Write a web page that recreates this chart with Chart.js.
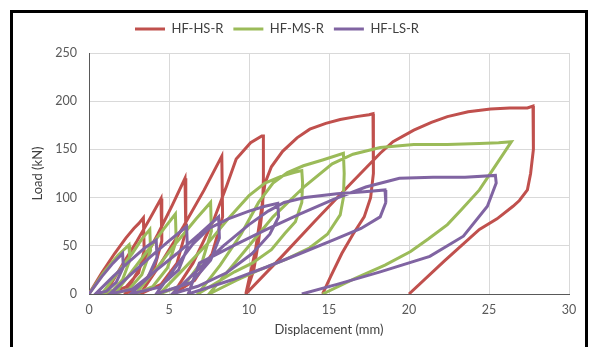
<!DOCTYPE html>
<html><head><meta charset="utf-8">
<script src="https://cdn.jsdelivr.net/npm/chart.js@4/dist/chart.umd.min.js"></script>
<style>html,body{margin:0;padding:0;background:#fff;overflow:hidden}
#wrap{position:relative;width:593px;height:347px}</style></head>
<body><div id="wrap"><canvas id="c" width="593" height="347"></canvas></div>
<script>
const seriesNames = ['HF-HS-R', 'HF-MS-R', 'HF-LS-R'];
const xTitle = 'Displacement (mm)';
const yTitle = 'Load (kN)';
const xTicks = [0, 5, 10, 15, 20, 25, 30];
const yTicks = [0, 50, 100, 150, 200, 250];

// HF-HS-R (red) displacement / load path
const redX = [0,0.8,1.6,2.3,2.8,3.1,3.4,3.45,3.1,2.3,1.0,
  2.0,3.0,3.8,4.5,4.55,4.1,3.3,2.25,
  3.2,4.3,5.2,6.0,6.05,5.5,4.5,3.2,
  4.5,5.9,7.2,8.3,8.35,7.7,6.6,5.25,
  6.5,7.8,8.6,9.2,10.1,10.8,10.9,10.9,10.85,10.6,10.3,9.8,
  10.4,10.8,11.0,11.4,12.1,13.0,13.8,14.8,15.7,16.7,17.5,17.75,17.8,17.75,17.6,17.2,16.5,15.8,15.1,14.6,
  null,
  9.8,12.0,14.2,16.5,18.2,19.0,20.3,21.4,22.4,23.7,25.1,26.3,27.4,27.75,27.8,27.75,27.6,27.4,26.9,26.5,25.5,24.4,22.2,20.0];
const redY = [0,22,42,58,68,73,79,45,22,7,0,
  28,55,78,99,55,28,9,0,
  28,62,92,120,65,32,10,0,
  32,70,108,143,80,42,14,0,
  32,77,112,140,157,164,164,120,90,55,25,0,
  45,90,115,132,148,162,171,177,181,184,186,187,160,125,100,80,62,42,18,0,
  null,
  0,38,77,117,146,158,170,178,184,189,192,193,193,195,175,150,125,108,97,91,78,67,34,0];

// HF-MS-R (green)
const greenX = [0,0.9,1.8,2.5,2.55,2.1,1.5,0.8,
  1.7,2.7,3.3,3.8,3.85,3.3,2.5,1.6,
  2.7,3.8,4.7,5.4,5.45,4.9,4.0,2.9,
  4.2,5.5,6.7,7.6,7.65,7.1,6.0,4.4,
  5.8,7.4,8.8,10.0,11.0,12.0,12.8,13.3,13.35,13.3,12.9,12.25,11.4,10.2,9.1,6.8,
  8.2,9.5,10.6,11.5,12.4,13.4,14.6,15.9,15.95,15.9,15.7,14.9,13.8,12.3,10.5,9.2,7.5,
  9.5,11.5,13.5,15.2,16.5,18.2,20.3,22.4,24.4,25.6,26.4,26.0,25.2,24.4,23.3,22.4,21.2,20.1,18.5,16.6,14.6];
const greenY = [0,22,40,51,35,15,4,0,
  20,42,57,67,45,20,5,0,
  24,48,68,83,55,27,8,0,
  26,54,78,95,65,35,10,0,
  24,52,80,102,115,122,126,128,115,95,75,63,46,32,23,0,
  30,62,95,115,126,133,139,146,125,100,82,62,48,36,24,14,0,
  40,80,112,135,145,152,155,155,156,157,158,148,128,108,88,72,57,44,30,16,0];

// HF-LS-R (purple)
const purpleX = [0,0.8,1.5,2.1,2.15,1.7,1.1,0.4,
  1.5,2.6,3.5,4.2,4.25,3.7,2.7,1.3,
  2.6,3.8,5.0,6.1,6.15,5.6,4.4,2.6,
  4.0,5.5,6.9,8.1,8.15,7.6,6.4,4.2,
  5.5,6.5,7.5,8.7,10.0,11.0,11.8,11.85,11.3,10.2,8.6,6.8,5.2,
  6.8,8.4,10.0,11.2,12.2,13.5,15.5,17.2,18.5,18.55,18.2,17.0,15.25,13.2,11.1,9.0,6.2,
  6.9,9.0,11.1,13.2,15.25,17.3,19.4,21.5,23.5,25.4,25.45,24.9,23.4,21.3,18.2,15.5,13.3];
const purpleY = [0,18,32,42,28,12,3,0,
  18,35,48,56,38,18,5,0,
  20,38,55,70,48,25,7,0,
  22,42,62,80,58,35,12,0,
  30,52,68,78,86,91,94,80,62,42,22,8,0,
  25,50,72,86,95,100,104,106,108,95,80,68,56,42,28,15,0,
  32,50,67,83,98,111,120,121,121,123,115,91,60,39,23,10,0];

function pts(xs, ys) {
  return xs.map((x, i) => (x === null ? {x: null, y: null} : {x: x, y: ys[i]}));
}

const colors = ['#C0504D', '#9BBB59', '#8064A2'];
const seriesData = [pts(redX, redY), pts(greenX, greenY), pts(purpleX, purpleY)];

const frame = {
  id: 'frame',
  afterUpdate(chart) {
    const lg = chart.legend;
    if (!lg || !lg.legendHitBoxes || !lg.legendHitBoxes.length) return;
    const hb = lg.legendHitBoxes[0];
    const dx = 135 - hb.left;
    const dy = 29 - (hb.top + hb.height / 2);
    lg.left += dx; lg.right += dx; lg.top += dy; lg.bottom += dy;
    lg.adjustHitBoxes();
  },
  afterDraw(chart) {
    const ctx = chart.ctx;
    ctx.save();
    ctx.strokeStyle = '#000';
    ctx.lineWidth = 3;
    ctx.beginPath();
    ctx.moveTo(11.5, 350);
    ctx.lineTo(11.5, 11.5);
    ctx.lineTo(586.5, 11.5);
    ctx.lineTo(586.5, 350);
    ctx.stroke();
    ctx.restore();
  }
};

new Chart(document.getElementById('c'), {
  type: 'scatter',
  data: {
    datasets: seriesNames.map((n, i) => ({
      label: n,
      data: seriesData[i],
      showLine: true,
      spanGaps: false,
      borderColor: colors[i],
      backgroundColor: colors[i],
      borderWidth: 3,
      pointRadius: 0,
      pointHoverRadius: 0,
      tension: 0,
      order: 2 - i
    }))
  },
  options: {
    responsive: false,
    animation: false,
    devicePixelRatio: 1,
    layout: {padding: {left: 14, right: 24, top: 20, bottom: 0}},
    plugins: {
      tooltip: {enabled: false},
      legend: {
        position: 'top',
        labels: {
          boxWidth: 30, boxHeight: 3, padding: 10,
          color: '#404040',
          font: {family: 'Lato', size: 13},
          sort: (a, b) => a.datasetIndex - b.datasetIndex,
          generateLabels(chart) {
            const items = Chart.defaults.plugins.legend.labels.generateLabels(chart);
            items.forEach(it => { it.lineWidth = 0; it.strokeStyle = 'rgba(0,0,0,0)'; });
            return items;
          }
        }
      }
    },
    scales: {
      x: {
        type: 'linear', min: 0, max: 30,
        afterBuildTicks(s) { s.ticks = xTicks.map(v => ({value: v})); },
        ticks: {color: '#595959', font: {family: 'Lato', size: 12.5}, padding: 8, maxRotation: 0},
        grid: {color: '#d9d9d9', drawTicks: false},
        border: {color: '#595959', width: 1},
        title: {display: true, text: xTitle, color: '#404040', font: {family: 'Lato', size: 13}, padding: {top: 0, bottom: 9}},
        afterFit(s) { s.height = 53; }
      },
      y: {
        type: 'linear', min: 0, max: 250,
        afterBuildTicks(s) { s.ticks = yTicks.map(v => ({value: v})); },
        ticks: {color: '#595959', font: {family: 'Lato', size: 12.5}, padding: 12},
        grid: {color: '#d9d9d9', drawTicks: false},
        border: {color: '#595959', width: 1},
        title: {display: true, text: yTitle, color: '#404040', font: {family: 'Lato', size: 13}, padding: {top: 16, bottom: 0}},
        afterFit(s) { s.width = 75; }
      }
    }
  },
  plugins: [frame]
});
</script></body></html>
